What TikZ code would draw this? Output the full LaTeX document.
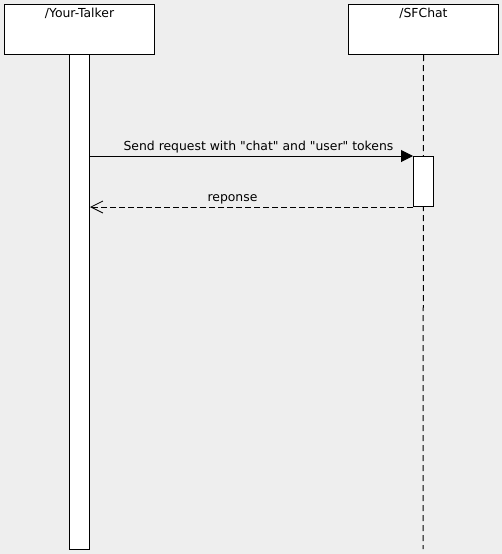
\documentclass[tikz,border=0pt]{standalone}
\usepackage{fontspec}
\setmainfont{DejaVu Sans}[Ligatures=TeXOff]
\usetikzlibrary{arrows.meta}
\definecolor{bg}{HTML}{EEEEEE}
\begin{document}
\begin{tikzpicture}[x=1pt,y=-1pt,
  headbox/.style={draw=black,fill=white,line width=1pt,minimum width=150pt,minimum height=50pt,anchor=north west,inner sep=0pt},
  lbl/.style={font=\fontsize{12.4}{14}\selectfont,inner sep=0pt},
  bar/.style={draw=black,fill=white,line width=1pt},
  lifeline/.style={line width=1pt,dash pattern=on 6pt off 4pt},
  msg/.style={line width=1pt,-{Triangle[length=12pt,width=12pt]}},
  ret/.style={line width=1pt,dash pattern=on 6pt off 3pt,-{Straight Barb[length=12pt,width=12pt,line width=0.8pt]}}]
\fill[bg] (0,0) rectangle (502,554);
\useasboundingbox (0,0) rectangle (502,554);
\node[headbox] (talker) at (4,4) {};
\node[lbl,anchor=north] at (talker.north) [yshift=-4pt] {/Your-Talker};
\node[headbox] (sfchat) at (348,4) {};
\node[lbl,anchor=north] at (sfchat.north) [yshift=-4pt] {/SFChat};
\coordinate (sfend) at (423,549);
\draw[lifeline] (sfchat.south) -- (sfend);
\node[bar,anchor=north west,minimum width=20pt,minimum height=495pt,inner sep=0pt] (tbar) at (69,54) {};
\node[bar,anchor=north west,minimum width=20pt,minimum height=50pt,inner sep=0pt] (sbar) at (413,156) {};
\draw[msg] (tbar.east |- sbar.north west) -- node[lbl,above=2pt,xshift=7pt] {Send request with "chat" and "user" tokens} (sbar.north west);
\draw[ret] (sbar.south west) -- node[lbl,above=2pt,xshift=-19pt] {reponse} (tbar.east |- sbar.south west);
\end{tikzpicture}
\end{document}
